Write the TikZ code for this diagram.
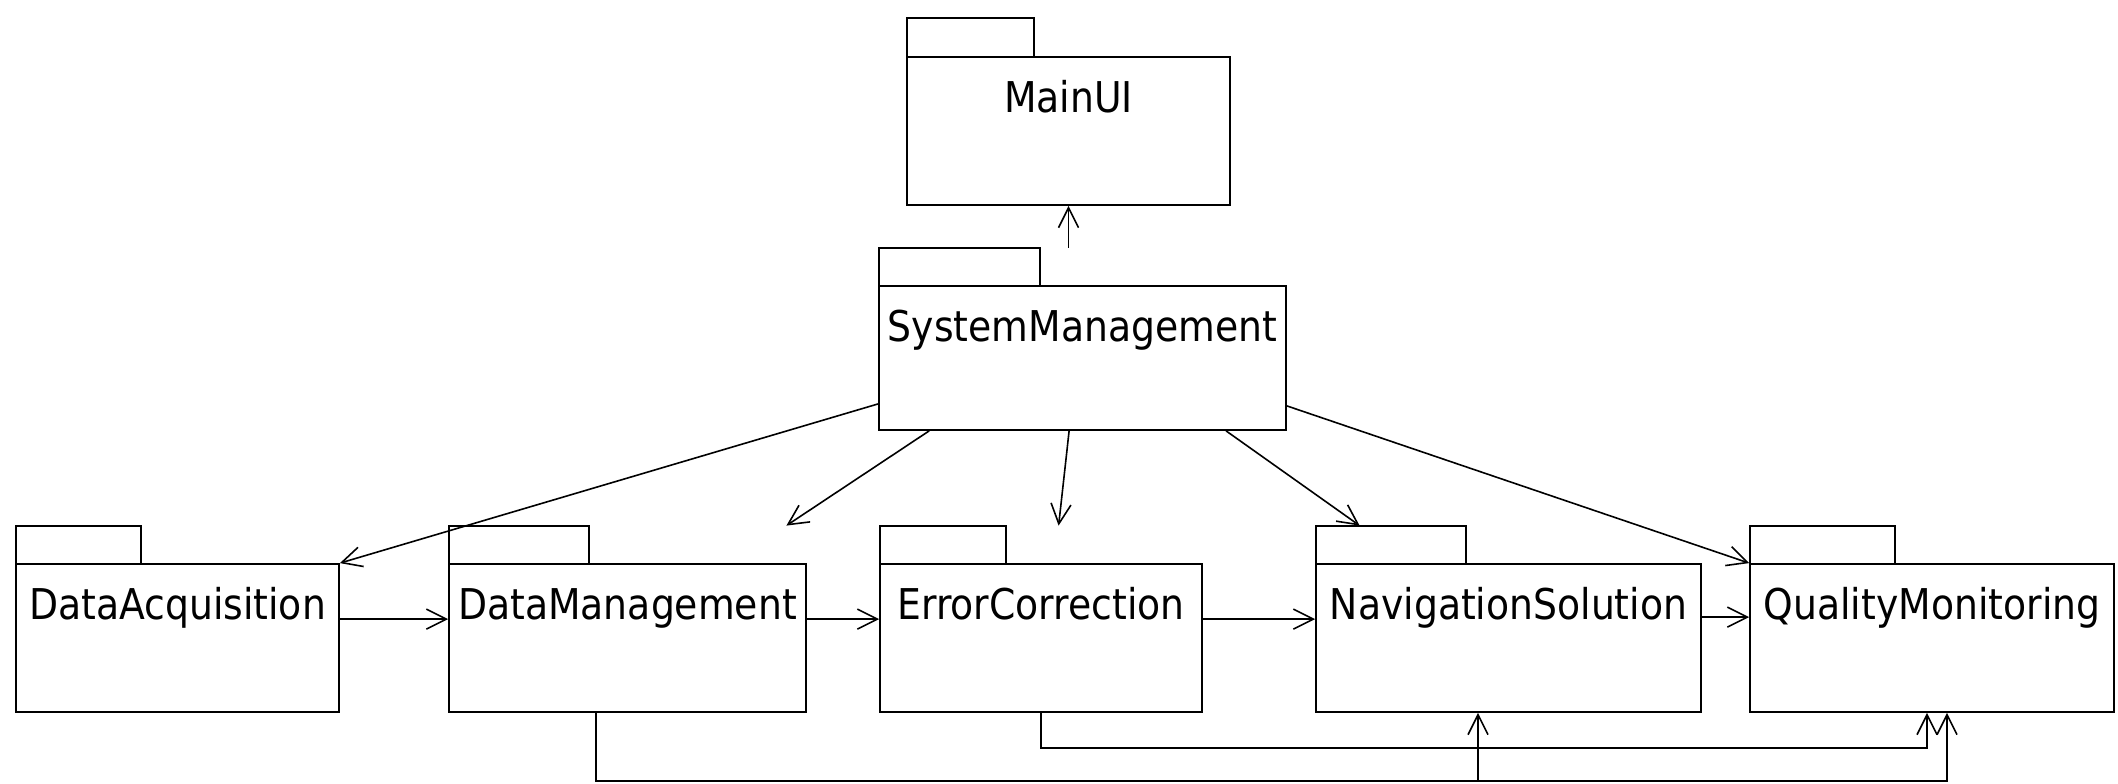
\documentclass[tikz,border=0pt]{standalone}
\usepackage{fontspec}
\setmainfont{DejaVu Sans}[FakeStretch=0.89]
\usetikzlibrary{arrows.meta,calc,fit}

% one unit = one pixel, y pointing down
\tikzset{
  pkgbody/.style={draw, line width=0.9pt, inner sep=0pt},
  pkgtab/.style={draw, line width=0.9pt, inner sep=0pt},
  pkgbox/.style={inner sep=0pt},
  pkglabel/.style={anchor=base, inner sep=0pt, font=\fontsize{21.2}{25}\selectfont},
  dep/.style={line width=0.8pt, -{Straight Barb[length=10pt,width=10pt,line width=0.8pt]}},
  wire/.style={line width=0.9pt}
}

% UML package: name, left, tab top, tab right, body top, right, bottom, title
\newcommand\umlpackage[8]{%
  \node[pkgbody, fit={(#2,#5) (#6,#7)}] (#1) {};
  \node[pkgtab, fit={(#2,#3) (#4,#5)}] (#1-tab) {};
  \node[pkgbox, fit={(#2,#3) (#6,#7)}] (#1-all) {};
  \node[pkglabel] (#1-label) at ($(#1.north)+(0,56)$) {#8};
}

\begin{document}
\begin{tikzpicture}[x=0.5pt,y=-0.5pt]
\useasboundingbox (0,0) rectangle (2118,783);

% packages
\umlpackage{mu}{907}{18}{1034}{57}{1230}{205}{MainUI}
\umlpackage{sm}{879}{248}{1040}{286}{1286}{430}{SystemManagement}
\umlpackage{da}{16}{526}{141}{564}{339}{712}{DataAcquisition}
\umlpackage{dm}{449}{526}{589}{564}{806}{712}{DataManagement}
\umlpackage{ec}{880}{526}{1006}{564}{1202}{712}{ErrorCorrection}
\umlpackage{ns}{1316}{526}{1466}{564}{1701}{712}{NavigationSolution}
\umlpackage{qm}{1750}{526}{1895}{564}{2114}{712}{QualityMonitoring}

% system management to main UI
\draw[dep] (sm-all.north -| mu.south) -- (mu.south);

% system management to the processing packages
\draw[dep] ($(sm.south west)+(0,-27)$) -- (da.north east);
\draw[dep] ($(sm.south west)+(51,0)$) -- ($(dm-all.north east)+(-20,0)$);
\draw[dep] ($(sm.south west)+(191,0)$) -- ($(ec-all.north west)+(179,0)$);
\draw[dep] ($(sm.south west)+(348,0)$) -- ($(ns-all.north west)+(44,0)$);
\draw[dep] ($(sm.south east)+(0,-25)$) -- (qm.north west);

% processing chain
\draw[dep] (da-label.base -| da.east) -- (da-label.base -| dm.west);
\draw[dep] (dm-label.base -| dm.east) -- (dm-label.base -| ec.west);
\draw[dep] (ec-label.base -| ec.east) -- (ec-label.base -| ns.west);
\draw[dep] ($(ns-label.base -| ns.east)+(0,-2)$) -- ($(ns-label.base -| qm.west)+(0,-2)$);

% routed links below the chain
\coordinate (dmdown) at (596,781);
\coordinate (dmq) at (1947,781);
\coordinate (dmn) at (1478,781);
\coordinate (ecq) at (1927,748);
\draw[dep] (dm.south -| dmdown) -- (dmdown) -- (dmq) -- (qm.south -| dmq);
\draw[dep] (dmn) -- (ns.south -| dmn);
\draw[dep] (ec.south) -- (ec.south |- ecq) -- (ecq) -- (qm.south -| ecq);
\end{tikzpicture}
\end{document}
